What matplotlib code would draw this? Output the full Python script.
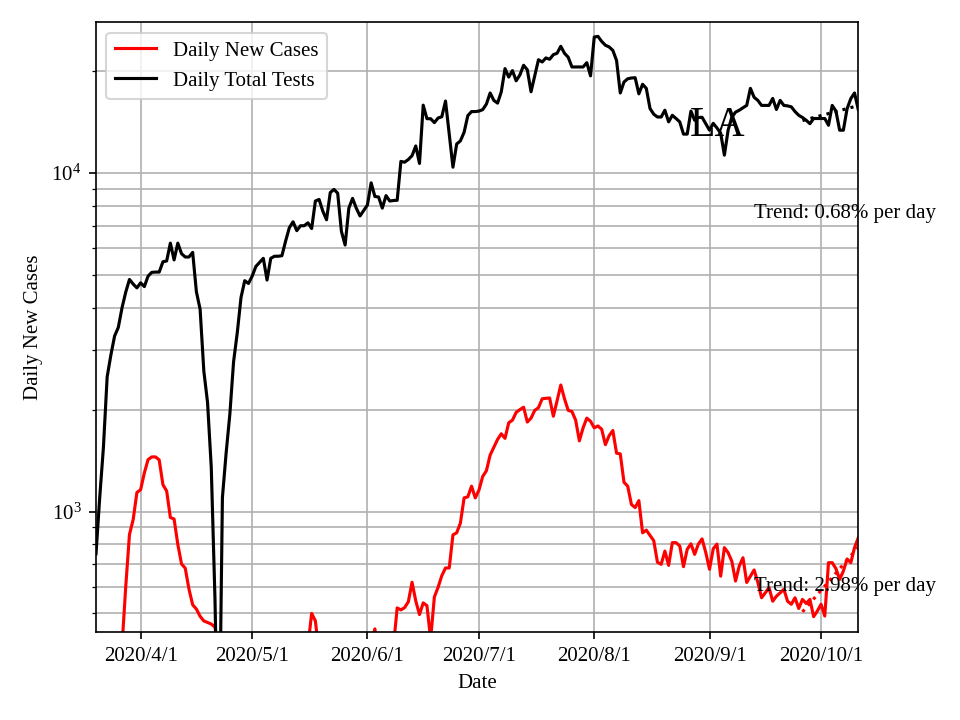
import numpy as np
import pandas as pd
import matplotlib
matplotlib.use("Agg")
import matplotlib.pyplot as plt
import matplotlib.dates as mdates
from matplotlib.ticker import FuncFormatter

plt.rcParams['font.family'] = ['Liberation Serif', 'DejaVu Serif']

# daily values, 2020-03-20 .. 2020-10-11
dates = pd.date_range("2020-03-20", "2020-10-11", freq="D")

daily_cases = [
    150, 180, 230, 280, 320, 350, 370, 400, 600, 855,
    947, 1138, 1160, 1300, 1423, 1450, 1450, 1420, 1200, 1150,
    960, 950, 800, 700, 680, 590, 530, 515, 490, 475,
    470, 465, 455, 380, 370, 360, 350, 340, 330, 330,
    320, 320, 310, 310, 300, 300, 310, 320, 330, 330,
    340, 350, 360, 360, 370, 380, 390, 400, 500, 475,
    380, 370, 360, 360, 350, 350, 350, 360, 360, 370,
    370, 380, 390, 400, 400, 450, 380, 380, 390, 380,
    400, 519, 512, 520, 541, 618, 544, 496, 537, 527,
    420, 559, 597, 646, 681, 681, 853, 865, 924, 1097,
    1105, 1188, 1097, 1157, 1269, 1320, 1468, 1547, 1633, 1697,
    1645, 1829, 1862, 1963, 2000, 2033, 1838, 1888, 1990, 2027,
    2153, 2160, 2165, 1912, 2123, 2365, 2153, 1990, 1975, 1862,
    1617, 1767, 1888, 1848, 1767, 1790, 1750, 1576, 1675, 1735,
    1487, 1480, 1220, 1188, 1049, 1027, 1077, 865, 881, 850,
    820, 708, 698, 764, 693, 809, 809, 791, 687, 773,
    803, 747, 801, 830, 756, 675, 776, 801, 644, 782,
    756, 713, 623, 690, 730, 617, 644, 672, 617, 556,
    575, 596, 543, 562, 575, 589, 543, 532, 556, 517,
    550, 535, 550, 489, 508, 532, 491, 706, 706, 678,
    630, 667, 724, 706, 782, 836,
]

daily_tests = [
    750, 1100, 1550, 2500, 2900, 3300, 3500, 4000, 4450, 4850,
    4700, 4580, 4740, 4620, 4960, 5090, 5100, 5100, 5470, 5500,
    6210, 5540, 6210, 5780, 5650, 5650, 5830, 4460, 3960, 2600,
    2100, 1350, 550, 150, 1100, 1490, 1940, 2770, 3380, 4290,
    4810, 4720, 4960, 5300, 5450, 5600, 4830, 5600, 5680, 5680,
    5700, 6300, 6900, 7180, 6760, 6990, 6990, 7130, 6860, 8270,
    8360, 7720, 7280, 8760, 8950, 8720, 6730, 6130, 7880, 8420,
    7880, 7470, 7750, 8050, 9360, 8530, 8500, 7880, 8580, 8270,
    8300, 8310, 10830, 10770, 10970, 11260, 12030, 10680, 15880, 14480,
    14480, 14100, 14550, 14670, 16330, 13040, 10410, 12190, 12450, 13200,
    14790, 15200, 15200, 15250, 15400, 16000, 17250, 16400, 16100, 17390,
    20360, 19220, 20090, 18740, 19500, 20830, 20200, 17390, 19400, 21630,
    21300, 21900, 21700, 22390, 22600, 23700, 22600, 22000, 20590, 20590,
    20590, 20590, 21200, 19380, 25240, 25360, 24500, 23870, 23600, 23050,
    21520, 17250, 18590, 19000, 19100, 19140, 17150, 18300, 17800, 15520,
    14930, 14650, 14650, 15340, 14170, 14820, 14500, 14170, 13040, 13040,
    15250, 14330, 14600, 14620, 14000, 13390, 14030, 13600, 13130, 11300,
    13390, 14620, 15140, 15340, 15600, 15850, 17800, 16750, 16400, 15850,
    15850, 15850, 16620, 15420, 16400, 15850, 15800, 15700, 15200, 14820,
    14600, 14330, 14000, 14500, 14500, 14500, 14500, 13850, 15850, 15250,
    13390, 13390, 15500, 16600, 17250, 15420,
]

# trend over the last 16 days
trend_start = pd.Timestamp("2020-09-26")
cases_rate = 0.0298
tests_rate = 0.0068
cases_trend_start = 505
tests_trend_start = 14300

fig, ax = plt.subplots(figsize=(6.4, 4.8), dpi=150)
fig.subplots_adjust(left=0.1, right=0.894, bottom=0.122, top=0.969)

ax.plot(dates, daily_cases, color="red", label="Daily New Cases")
ax.plot(dates, daily_tests, color="black", label="Daily Total Tests")

tdates = dates[dates >= trend_start]
t = np.arange(len(tdates))
ax.plot(tdates, cases_trend_start * (1 + cases_rate) ** t, color="red", linestyle=":")
ax.plot(tdates, tests_trend_start * (1 + tests_rate) ** t, color="black", linestyle=":")

ax.text(pd.Timestamp("2020-09-13"), 7600, "Trend: 0.68% per day", va="center", fontsize=10)
ax.text(pd.Timestamp("2020-09-13"), 600, "Trend: 2.98% per day", va="center", fontsize=10)
ax.text(0.816, 0.83, "LA", transform=ax.transAxes, ha="center", va="center", fontsize=20)

ax.set_yscale("log")
ax.set_ylim(440, 27900)
ax.set_xlim(dates[0], dates[-1])
ax.xaxis.set_major_locator(mdates.MonthLocator())
ax.xaxis.set_major_formatter(FuncFormatter(
    lambda v, pos: "{0}/{1}/{2}".format(mdates.num2date(v).year, mdates.num2date(v).month, mdates.num2date(v).day)))
ax.grid(True, which="both")
ax.set_xlabel("Date")
ax.set_ylabel("Daily New Cases")
ax.legend(loc="upper left")

fig.savefig("out.png")
